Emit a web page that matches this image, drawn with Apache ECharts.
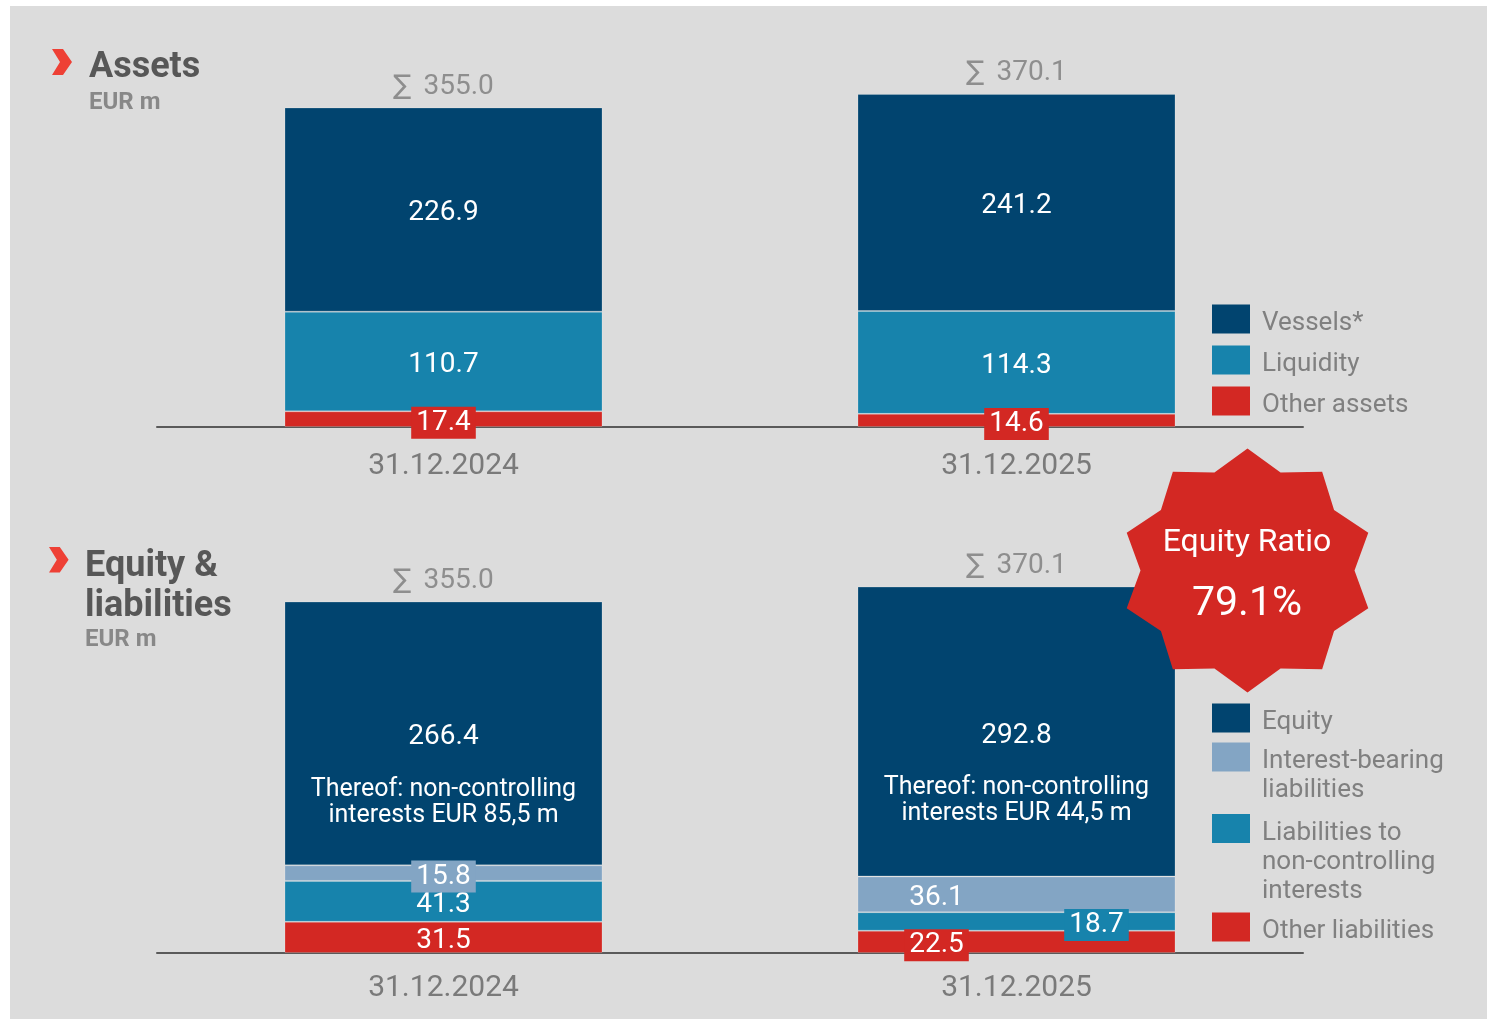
<!DOCTYPE html>
<html>
<head>
<meta charset="utf-8">
<title>Assets / Equity & liabilities</title>
<script src="https://cdn.jsdelivr.net/npm/echarts@6/dist/echarts.min.js"></script>
<style>
  html, body { margin: 0; padding: 0; background: #fff; }
  #chart { width: 1487px; height: 1019px; }
</style>
</head>
<body>
<div id="chart"></div>
<script>
const dates = ['31.12.2024', '31.12.2025']

// Assets, EUR m
const vessels = [226.9, 241.2]
const liquidity = [110.7, 114.3]
const otherAssets = [17.4, 14.6]
const assetTotals = [355.0, 370.1]

// Equity & liabilities, EUR m
const equity = [266.4, 292.8]
const interestBearing = [15.8, 36.1]
const nciLiabilities = [41.3, 18.7]
const otherLiabilities = [31.5, 22.5]
const liabTotals = [355.0, 370.1]
const nciEquity = [85.5, 44.5]
const equityRatio = 79.1

const NAVY = '#01446f'
const TEAL = '#1783ac'
const STEEL = '#83a5c4'
const RED = '#d32823'
const GREY = '#7a7a7a'
const FONT = 'Roboto'
const DY = 3.5 // nudge labels down a bit, Roboto sits high

const chart = echarts.init(document.getElementById('chart'))

const fmt1 = v => v.toFixed(1)
const boxed = (color, dx = 0) => ({ backgroundColor: color, padding: [2, 5], offset: [dx, DY] })

// attach per-bar label overrides without touching the value arrays
const withLabels = (values, labels) =>
  values.map((v, i) => (labels && labels[i] ? { value: v, label: labels[i] } : v))

const barBase = {
  type: 'bar',
  barWidth: 318,
  silent: true,
  itemStyle: { borderColor: 'rgba(255,255,255,0.2)', borderWidth: 1 },
  label: {
    show: true, position: 'inside', offset: [0, DY], color: '#fff', fontSize: 28, fontFamily: FONT,
    formatter: p => fmt1(p.value)
  }
}

const bar = (name, axis, color, data) => ({
  ...barBase,
  name,
  xAxisIndex: axis,
  yAxisIndex: axis,
  stack: 's' + axis,
  itemStyle: { ...barBase.itemStyle, color },
  data
})

const totals = (axis, data) => ({
  type: 'scatter',
  name: 'total' + axis,
  xAxisIndex: axis,
  yAxisIndex: axis,
  symbolSize: 1,
  silent: true,
  itemStyle: { color: 'rgba(0,0,0,0)' },
  label: {
    show: true, position: 'top', distance: 6, color: GREY, fontSize: 28, fontFamily: FONT,
    formatter: p => '{s|\u2211}{v|' + fmt1(p.value) + '}',
    rich: {
      s: { fontFamily: 'DejaVu Sans', fontSize: 27, color: GREY, padding: [0, 12, 0, 0] },
      v: { fontFamily: FONT, fontSize: 28, color: GREY }
    }
  },
  data
})

const equityLabel = {
  offset: [0, 41],
  formatter: p =>
    `{v|${fmt1(p.value)}}\n{s| }\n{t|Thereof: non-controlling}\n{t|interests EUR ${String(nciEquity[p.dataIndex]).replace('.', ',')} m}`,
  rich: {
    v: { fontSize: 28, lineHeight: 34, color: '#fff', fontFamily: FONT },
    s: { fontSize: 10, lineHeight: 22 },
    t: { fontSize: 25, lineHeight: 26, color: '#fff', fontFamily: FONT }
  }
}

const series = [
  bar('Other assets', 0, RED, withLabels(otherAssets, [boxed(RED), boxed(RED)])),
  bar('Liquidity', 0, TEAL, liquidity),
  bar('Vessels*', 0, NAVY, vessels),
  totals(0, assetTotals),

  bar('Other liabilities', 1, RED, withLabels(otherLiabilities, [null, boxed(RED, -80)])),
  bar('Liabilities to non-controlling interests', 1, TEAL, withLabels(nciLiabilities, [null, boxed(TEAL, 80)])),
  bar('Interest-bearing liabilities', 1, STEEL,
    withLabels(interestBearing, [boxed(STEEL), { offset: [-80, DY] }])),
  { ...bar('Equity', 1, NAVY, equity), label: { ...barBase.label, ...equityLabel } },
  totals(1, liabTotals)
]

const xAxisBase = {
  type: 'category',
  data: dates,
  axisTick: { show: false },
  axisLine: { lineStyle: { color: '#5a5a5a', width: 2 } },
  axisLabel: { color: GREY, fontSize: 30, fontFamily: FONT }
}
const yAxisBase = { type: 'value', min: 0, max: 400, show: false }

// legend text: a spacer line on top keeps the swatch level with the first line
const LH = 29
const legendRich = {
  t: { fontSize: 26, lineHeight: LH, color: '#808080', fontFamily: FONT, padding: [0, 0, 0, 7] },
  sp1: { fontSize: 1, lineHeight: LH - 20 },
  sp2: { fontSize: 1, lineHeight: 2 * LH - 20 },
  sp3: { fontSize: 1, lineHeight: 3 * LH - 20 }
}
const legendLabel = lines => `{sp${lines.length}| }\n` + lines.map(l => `{t|${l}}`).join('\n')

const legendBase = {
  orient: 'vertical',
  left: 1212,
  icon: 'rect',
  itemWidth: 38,
  itemHeight: LH,
  padding: 0,
  selectedMode: false,
  itemStyle: { borderWidth: 0 },
  textStyle: { rich: legendRich }
}

const assetLegend = ['Vessels*', 'Liquidity', 'Other assets']

// bottom legend: wrapped names, one legend box each (top = box top incl. spacer)
const liabLegend = [
  { name: 'Equity', lines: ['Equity'], top: 703 },
  { name: 'Interest-bearing liabilities', lines: ['Interest-bearing', 'liabilities'], top: 727.5 },
  { name: 'Liabilities to non-controlling interests', lines: ['Liabilities to', 'non-controlling', 'interests'], top: 784.5 },
  { name: 'Other liabilities', lines: ['Other liabilities'], top: 912 }
]

const legends = [
  {
    ...legendBase,
    top: 304,
    itemGap: 8.5,
    data: assetLegend,
    formatter: name => legendLabel([name])
  },
  ...liabLegend.map(it => ({
    ...legendBase,
    top: it.top,
    data: [it.name],
    formatter: () => legendLabel(it.lines)
  }))
]

// starburst badge
const starPts = []
for (let k = 0; k < 20; k++) {
  const a = Math.PI / 2 + k * Math.PI / 10
  const rx = k % 2 ? 107 : 127
  const ry = k % 2 ? 103 : 122
  starPts.push([1247.5 + rx * Math.cos(a), 570.5 - ry * Math.sin(a)])
}

const chevron = (x, y, s) => ({
  type: 'polygon',
  z: 10,
  shape: { points: [[0, 0], [11, 0], [20, 13], [11, 26], [0, 26], [8, 13]].map(p => [x + p[0] * s, y + p[1] * s]) },
  style: { fill: '#ee4035' }
})

const titleText = { fontSize: 36, fontWeight: 'bold', color: '#575757', lineHeight: 40, fontFamily: FONT }
const subText = { fontSize: 24, fontWeight: 'bold', color: '#888888', lineHeight: 28, fontFamily: FONT }

const option = {
  backgroundColor: '#ffffff',
  animation: false,
  textStyle: { fontFamily: FONT },
  title: [
    { text: 'Assets', subtext: 'EUR m', left: 89, top: 48, padding: 0, itemGap: 1, textStyle: titleText, subtextStyle: subText },
    { text: 'Equity &\nliabilities', subtext: 'EUR m', left: 85, top: 547, padding: 0, itemGap: -1, textStyle: titleText, subtextStyle: subText }
  ],
  legend: legends,
  grid: [
    { left: 157, right: 184, top: 67, height: 360 },
    { left: 157, right: 184, top: 557, height: 396 }
  ],
  xAxis: [
    { ...xAxisBase, gridIndex: 0, axisLabel: { ...xAxisBase.axisLabel, margin: 24 } },
    { ...xAxisBase, gridIndex: 1, axisLabel: { ...xAxisBase.axisLabel, margin: 20 } }
  ],
  yAxis: [
    { ...yAxisBase, gridIndex: 0 },
    { ...yAxisBase, gridIndex: 1 }
  ],
  graphic: [
    { type: 'rect', z: -100, shape: { x: 10, y: 6, width: 1477, height: 1013 }, style: { fill: '#dcdcdc' } },
    chevron(52, 49, 1),
    chevron(49, 547, 0.98),
    { type: 'polygon', z: 100, shape: { points: starPts }, style: { fill: RED } },
    {
      type: 'text', z: 101, x: 1247, y: 543,
      style: { text: 'Equity Ratio', fill: '#fff', fontSize: 32, fontFamily: FONT, textAlign: 'center', textVerticalAlign: 'middle' }
    },
    {
      type: 'text', z: 101, x: 1247, y: 605,
      style: { text: fmt1(equityRatio) + '%', fill: '#fff', fontSize: 41, fontFamily: FONT, textAlign: 'center', textVerticalAlign: 'middle' }
    }
  ],
  series
}

chart.setOption(option)
</script>
</body>
</html>
